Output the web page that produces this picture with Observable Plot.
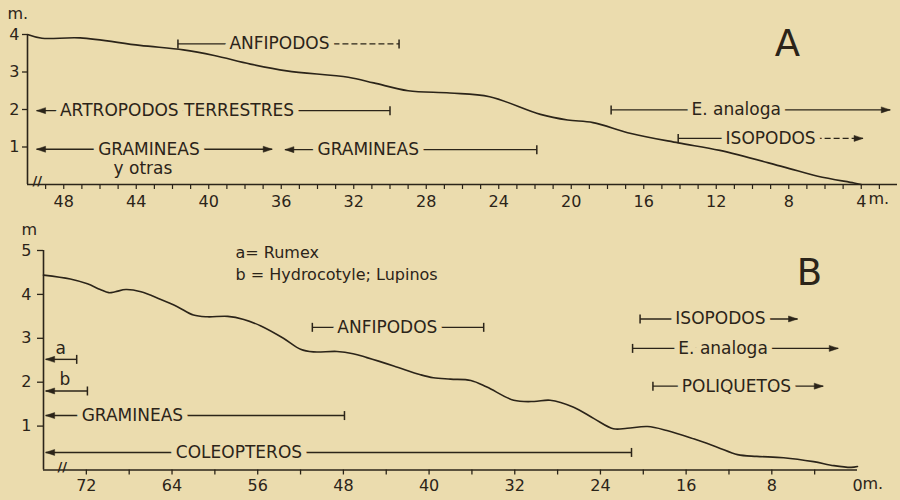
<!DOCTYPE html>
<html><head><meta charset="utf-8">
<script src="https://cdn.jsdelivr.net/npm/d3@7"></script>
<script src="https://cdn.jsdelivr.net/npm/@observablehq/plot@0.6"></script>
<style>
html,body{margin:0;padding:0;background:#ebdcae;}
#chart{width:900px;height:500px;position:relative;overflow:hidden;background:#ebdcae;}
#chart svg{display:block;}
</style></head><body><div id="chart"></div>
<script>
// ---------- Panel A : beach profile (distance m, height m) ----------
const distA   = [50, 49.2, 47.1, 43.8, 41.4, 39.7, 37.7, 35.7, 32.3, 30.9, 29.0, 26.7, 24.5, 21.7, 20.2, 18.8, 16.7, 14.1, 11.8, 8.3, 6.4, 4.4, 4.0];
const heightA = [4.0, 3.9, 3.91, 3.71, 3.59, 3.44, 3.21, 3.03, 2.86, 2.71, 2.50, 2.44, 2.34, 1.87, 1.72, 1.65, 1.36, 1.11, 0.91, 0.47, 0.22, 0.04, 0];
const xTicksA = [48, 44, 40, 36, 32, 28, 24, 20, 16, 12, 8, 4];
const xMinorA = d3.range(3, 50, 1);
const yTicksA = [1, 2, 3, 4];

// Panel A zones of organisms
const zoneLabelA = ["ANFIPODOS", "ARTROPODOS TERRESTRES", "GRAMINEAS", "GRAMINEAS", "E. analoga", "ISOPODOS"];
const zoneSubA   = ["", "", "y otras", "", "", ""];
const zoneFromA  = [41.7, 49.5, 49.5, 35.8, 17.8, 14.1];
const zoneToA    = [29.5, 30.0, 36.5, 21.9, 2.4, 3.9];
const zoneLevelA = [3.75, 1.97, 0.94, 0.93, 1.99, 1.23];
const zoneLabelAtA = [36.1, 41.75, 43.3, 31.2, 10.9, 9.0];
const zoneStartA = ["limit", "open", "open", "open", "limit", "limit"];
const zoneEndA   = ["limit", "limit", "open", "limit", "open", "open"];
const zoneUncertainA = [true, false, false, false, false, true];

// ---------- Panel B ----------
const distB   = [76, 73.5, 71.9, 70.7, 69.9, 69.3, 68.3, 66.9, 65.1, 63.5, 62.0, 60.7, 58.8, 57.3, 55.7, 53.6, 52.0, 50.8, 48.6, 47.1, 45.8, 43.3, 40.8, 39.6, 38.0, 36.1, 34.6, 32.1, 30.2, 28.7, 26.5, 24.6, 22.8, 21.5, 19.6, 17.8, 15.3, 13.1, 11.2, 9.4, 6.9, 4.1, 2.2, 0.6, 0.0];
const heightB = [4.44, 4.35, 4.24, 4.11, 4.04, 4.06, 4.11, 4.06, 3.89, 3.72, 3.53, 3.49, 3.50, 3.43, 3.28, 3.00, 2.75, 2.69, 2.70, 2.65, 2.56, 2.37, 2.17, 2.10, 2.07, 2.04, 1.89, 1.59, 1.56, 1.59, 1.43, 1.17, 0.94, 0.95, 0.99, 0.90, 0.71, 0.52, 0.35, 0.31, 0.28, 0.19, 0.10, 0.06, 0.08];
const xTicksB = [72, 64, 56, 48, 40, 32, 24, 16, 8, 0];
const xMinorB = d3.range(4, 73, 4);
const yTicksB = [1, 2, 3, 4, 5];

const zoneLabelB = ["a", "b", "GRAMINEAS", "COLEOPTEROS", "ANFIPODOS", "ISOPODOS", "E. analoga", "POLIQUETOS"];
const zoneFromB  = [75.8, 75.8, 75.8, 75.8, 50.9, 20.3, 21.0, 19.1];
const zoneToB    = [72.9, 71.9, 47.9, 21.1, 34.9, 5.6, 1.8, 3.2];
const zoneLevelB = [2.52, 1.80, 1.24, 0.40, 3.25, 3.44, 2.77, 1.91];
const zoneLabelAtB = [74.4, 74.0, 67.7, 57.75, 43.9, 12.8, 12.55, 11.3];
const zoneLabelAboveB = [true, true, false, false, false, false, false, false];
const zoneStartB = ["open", "open", "open", "open", "limit", "limit", "limit", "limit"];
const zoneEndB   = ["limit", "limit", "limit", "limit", "limit", "open", "open", "open"];
const keyNotesB = ["a= Rumex", "b = Hydrocotyle; Lupinos"];

// ---------- styling ----------
const ink = "#2b2419";
const paper = "#ebdcae";
const FONT = "'DejaVu Sans', sans-serif";

const barSymbol = {draw(c) { c.moveTo(0, -4.5); c.lineTo(0, 4.5); }};
const arrowSymbol = {draw(c) { c.moveTo(0, 0); c.lineTo(-9, -3); c.lineTo(-9, 3); c.closePath(); }};

function zones(labels, from, to, level, at, start, end, uncertain, above, sub) {
  return labels.map((label, i) => ({
    label, from: from[i], to: to[i], level: level[i], at: at[i],
    start: start[i], end: end[i],
    uncertain: uncertain ? uncertain[i] : false,
    above: above ? above[i] : false,
    sub: sub ? sub[i] : ""
  }));
}

function zoneMarks(rows) {
  const caps = [];
  rows.forEach(d => {
    caps.push({x: d.from, y: d.level, kind: d.start, dir: "left"});
    caps.push({x: d.to, y: d.level, kind: d.end, dir: "right"});
  });
  return [
    Plot.link(rows, {x1: "from", x2: d => d.uncertain ? d.at : d.to, y1: "level", y2: "level", stroke: ink, strokeWidth: 1.4}),
    Plot.link(rows.filter(d => d.uncertain), {x1: "at", x2: "to", y1: "level", y2: "level", stroke: ink, strokeWidth: 1.4, strokeDasharray: "6,3"}),
    Plot.dot(caps.filter(c => c.kind === "limit"), {x: "x", y: "y", symbol: barSymbol, fill: "none", stroke: ink, strokeWidth: 1.5}),
    Plot.dot(caps.filter(c => c.kind === "open" && c.dir === "right"), {x: "x", y: "y", symbol: arrowSymbol, fill: ink, stroke: ink, strokeWidth: 0.5}),
    Plot.dot(caps.filter(c => c.kind === "open" && c.dir === "left"), {x: "x", y: "y", symbol: arrowSymbol, rotate: 180, fill: ink, stroke: ink, strokeWidth: 0.5}),
    Plot.text(rows.filter(d => !d.above), {x: "at", y: "level", text: "label", fontSize: 17, fill: ink, stroke: paper, strokeWidth: 11, paintOrder: "stroke"}),
    Plot.text(rows.filter(d => d.above), {x: "at", y: "level", text: "label", dy: -11, fontSize: 17, fill: ink}),
    Plot.text(rows.filter(d => d.sub), {x: "at", y: "level", text: "sub", dx: -6, dy: 19, fontSize: 17, fill: ink})
  ];
}

const profileA = distA.map((d, i) => ({dist: d, h: heightA[i]}));
const profileB = distB.map((d, i) => ({dist: d, h: heightB[i]}));
const rowsA = zones(zoneLabelA, zoneFromA, zoneToA, zoneLevelA, zoneLabelAtA, zoneStartA, zoneEndA, zoneUncertainA, null, zoneSubA);
const rowsB = zones(zoneLabelB, zoneFromB, zoneToB, zoneLevelB, zoneLabelAtB, zoneStartB, zoneEndB, null, zoneLabelAboveB, null);

const style = {background: "transparent", color: ink, fontFamily: FONT, fontSize: "16px", overflow: "visible"};

const plotA = Plot.plot({
  width: 900, height: 215,
  marginLeft: 27, marginRight: 3, marginTop: 34, marginBottom: 31,
  x: {domain: [50, 2], axis: null},
  y: {domain: [0, 4], axis: null},
  style,
  marks: [
    Plot.axisX(xMinorA, {anchor: "bottom", tickSize: 5, tickFormat: () => "", stroke: ink, strokeWidth: 1.2}),
    Plot.axisX(xTicksA, {anchor: "bottom", tickSize: 0, tickPadding: 11, fontSize: 16, fill: ink}),
    Plot.axisY(yTicksA, {anchor: "left", tickSize: 5, tickPadding: 3, fontSize: 16, fill: ink, stroke: ink, strokeWidth: 1.3}),
    Plot.ruleY([0], {stroke: ink, strokeWidth: 1.6}),
    Plot.ruleX([50], {y1: 0, y2: 4, stroke: ink, strokeWidth: 1.6}),
    Plot.line(profileA, {x: "dist", y: "h", curve: "catmull-rom", stroke: ink, strokeWidth: 1.6}),
    ...zoneMarks(rowsA),
    Plot.text(["m."], {frameAnchor: "top-left", textAnchor: "start", lineAnchor: "top", dx: -20, dy: -27, fontSize: 16, fill: ink}),
    Plot.text(["m."], {frameAnchor: "bottom-right", dx: -29, dy: 19, textAnchor: "start", fontSize: 16, fill: ink}),
    Plot.text(["//"], {frameAnchor: "bottom-left", dx: 5, dy: 0, fontSize: 13, fontWeight: "bold", fill: ink}),
    Plot.text(["A"], {frameAnchor: "top-right", textAnchor: "middle", lineAnchor: "middle", dx: -110, dy: 10, fontSize: 37, fill: ink})
  ]
});

const plotB = Plot.plot({
  width: 900, height: 285,
  marginLeft: 43, marginRight: 43, marginTop: 35, marginBottom: 30.5,
  x: {domain: [76, 0], axis: null},
  y: {domain: [0, 5], axis: null},
  style,
  marks: [
    Plot.axisX(xMinorB, {anchor: "bottom", tickSize: 5, tickFormat: () => "", stroke: ink, strokeWidth: 1.3}),
    Plot.axisX(xTicksB, {anchor: "bottom", tickSize: 0, tickPadding: 10, fontSize: 16, fill: ink}),
    Plot.axisY(yTicksB, {anchor: "left", tickSize: 6, tickPadding: 6, fontSize: 16, fill: ink, stroke: ink, strokeWidth: 1.3}),
    Plot.ruleY([0], {stroke: ink, strokeWidth: 1.6}),
    Plot.ruleX([76], {y1: 0, y2: 5, stroke: ink, strokeWidth: 1.6}),
    Plot.line(profileB, {x: "dist", y: "h", curve: "catmull-rom", stroke: ink, strokeWidth: 1.6}),
    ...zoneMarks(rowsB),
    Plot.text(keyNotesB.slice(0, 1), {frameAnchor: "top-left", textAnchor: "start", lineAnchor: "middle", dx: 192, dy: 2, fontSize: 16, fill: ink}),
    Plot.text(keyNotesB.slice(1, 2), {frameAnchor: "top-left", textAnchor: "start", lineAnchor: "middle", dx: 192, dy: 24, fontSize: 16, fill: ink}),
    Plot.text(["m"], {frameAnchor: "top-left", textAnchor: "start", lineAnchor: "top", dx: -22, dy: -27, fontSize: 16, fill: ink}),
    Plot.text(["m."], {frameAnchor: "bottom-right", dx: 5, dy: 19, textAnchor: "start", fontSize: 16, fill: ink}),
    Plot.text(["//"], {frameAnchor: "bottom-left", dx: 14, dy: 1, fontSize: 13, fontWeight: "bold", fill: ink}),
    Plot.text(["B"], {frameAnchor: "top-right", textAnchor: "middle", lineAnchor: "middle", dx: -48, dy: 23, fontSize: 37, fill: ink})
  ]
});

const chart = document.getElementById("chart");
chart.appendChild(plotA);
chart.appendChild(plotB);
</script>
</body></html>
